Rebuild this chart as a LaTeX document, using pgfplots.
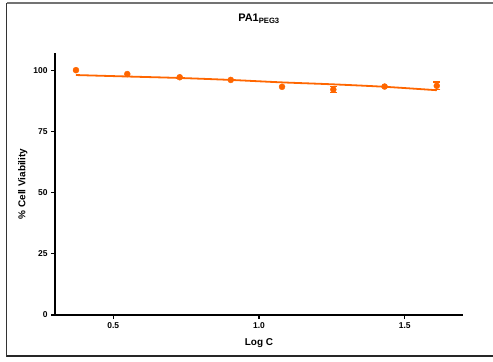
\documentclass[border=0pt]{standalone}
\usepackage{pgfplots}
\pgfplotsset{compat=1.18}
\usepackage{fontspec}
\setmainfont{Liberation Sans}
\definecolor{org}{RGB}{255,102,0}
\begin{document}
\begin{tikzpicture}[x=1bp,y=1bp]
\path[use as bounding box] (0,0) rectangle (493,361);
\draw[black!80, line width=1.2bp] (6.5,4.5) -- (6.5,358) ;
\draw[black!55, line width=1.2bp] (6.5,358) -- (493,358);
\draw[black!85, line width=1.2bp] (6.5,5) -- (493,5);
\begin{axis}[
  at={(55bp,46bp)}, anchor=south west,
  scale only axis, width=408bp, height=262bp,
  xmin=0.3, xmax=1.7, ymin=0, ymax=107,
  axis lines*=left,
  axis line style={line width=1.6bp, -},
  xtick={0.5,1.0,1.5}, ytick={0,25,50,75,100},
  tick align=outside, major tick length=4bp,
  tick style={line width=1.2bp, black},
  /pgf/number format/assume math mode=true,
  xticklabel style={/pgf/number format/.cd, fixed, fixed zerofill, precision=1},
  tick label style={font=\bfseries\fontsize{8.5}{10}\selectfont},
  xlabel={Log C}, ylabel={\% Cell Viability},
  label style={font=\bfseries\fontsize{10}{12}\selectfont},
  xlabel style={yshift=-3bp},
  ylabel style={yshift=-1bp},
  title={PA1\textsubscript{PEG3}},
  title style={font=\bfseries\fontsize{11}{13}\selectfont, yshift=20bp},
  clip=false,
]
\addplot[org, line width=1.8bp, smooth] coordinates {
(0.372,98.0) (0.548,97.4) (0.728,96.8) (0.903,96.0) (1.079,95.0) (1.255,94.2) (1.431,93.2) (1.610,91.8)
};
\addplot[org, only marks, mark=*, mark size=3bp] table {
x y
0.372 100.0
0.548 98.4
0.728 97.1
0.903 96.0
1.079 93.2
1.255 92.1
1.431 93.3
1.610 93.6
};
\addplot[org, only marks, mark=none,
  error bars/.cd, y dir=both, y explicit,
  error bar style={line width=1.4bp, org},
  error mark options={rotate=90, mark size=3.5bp, line width=1.4bp, org}]
  table[x=x, y=y, y error=e] {
x y e
1.255 92.1 1.2
1.610 93.6 1.6
};
\end{axis}
\end{tikzpicture}
\end{document}
